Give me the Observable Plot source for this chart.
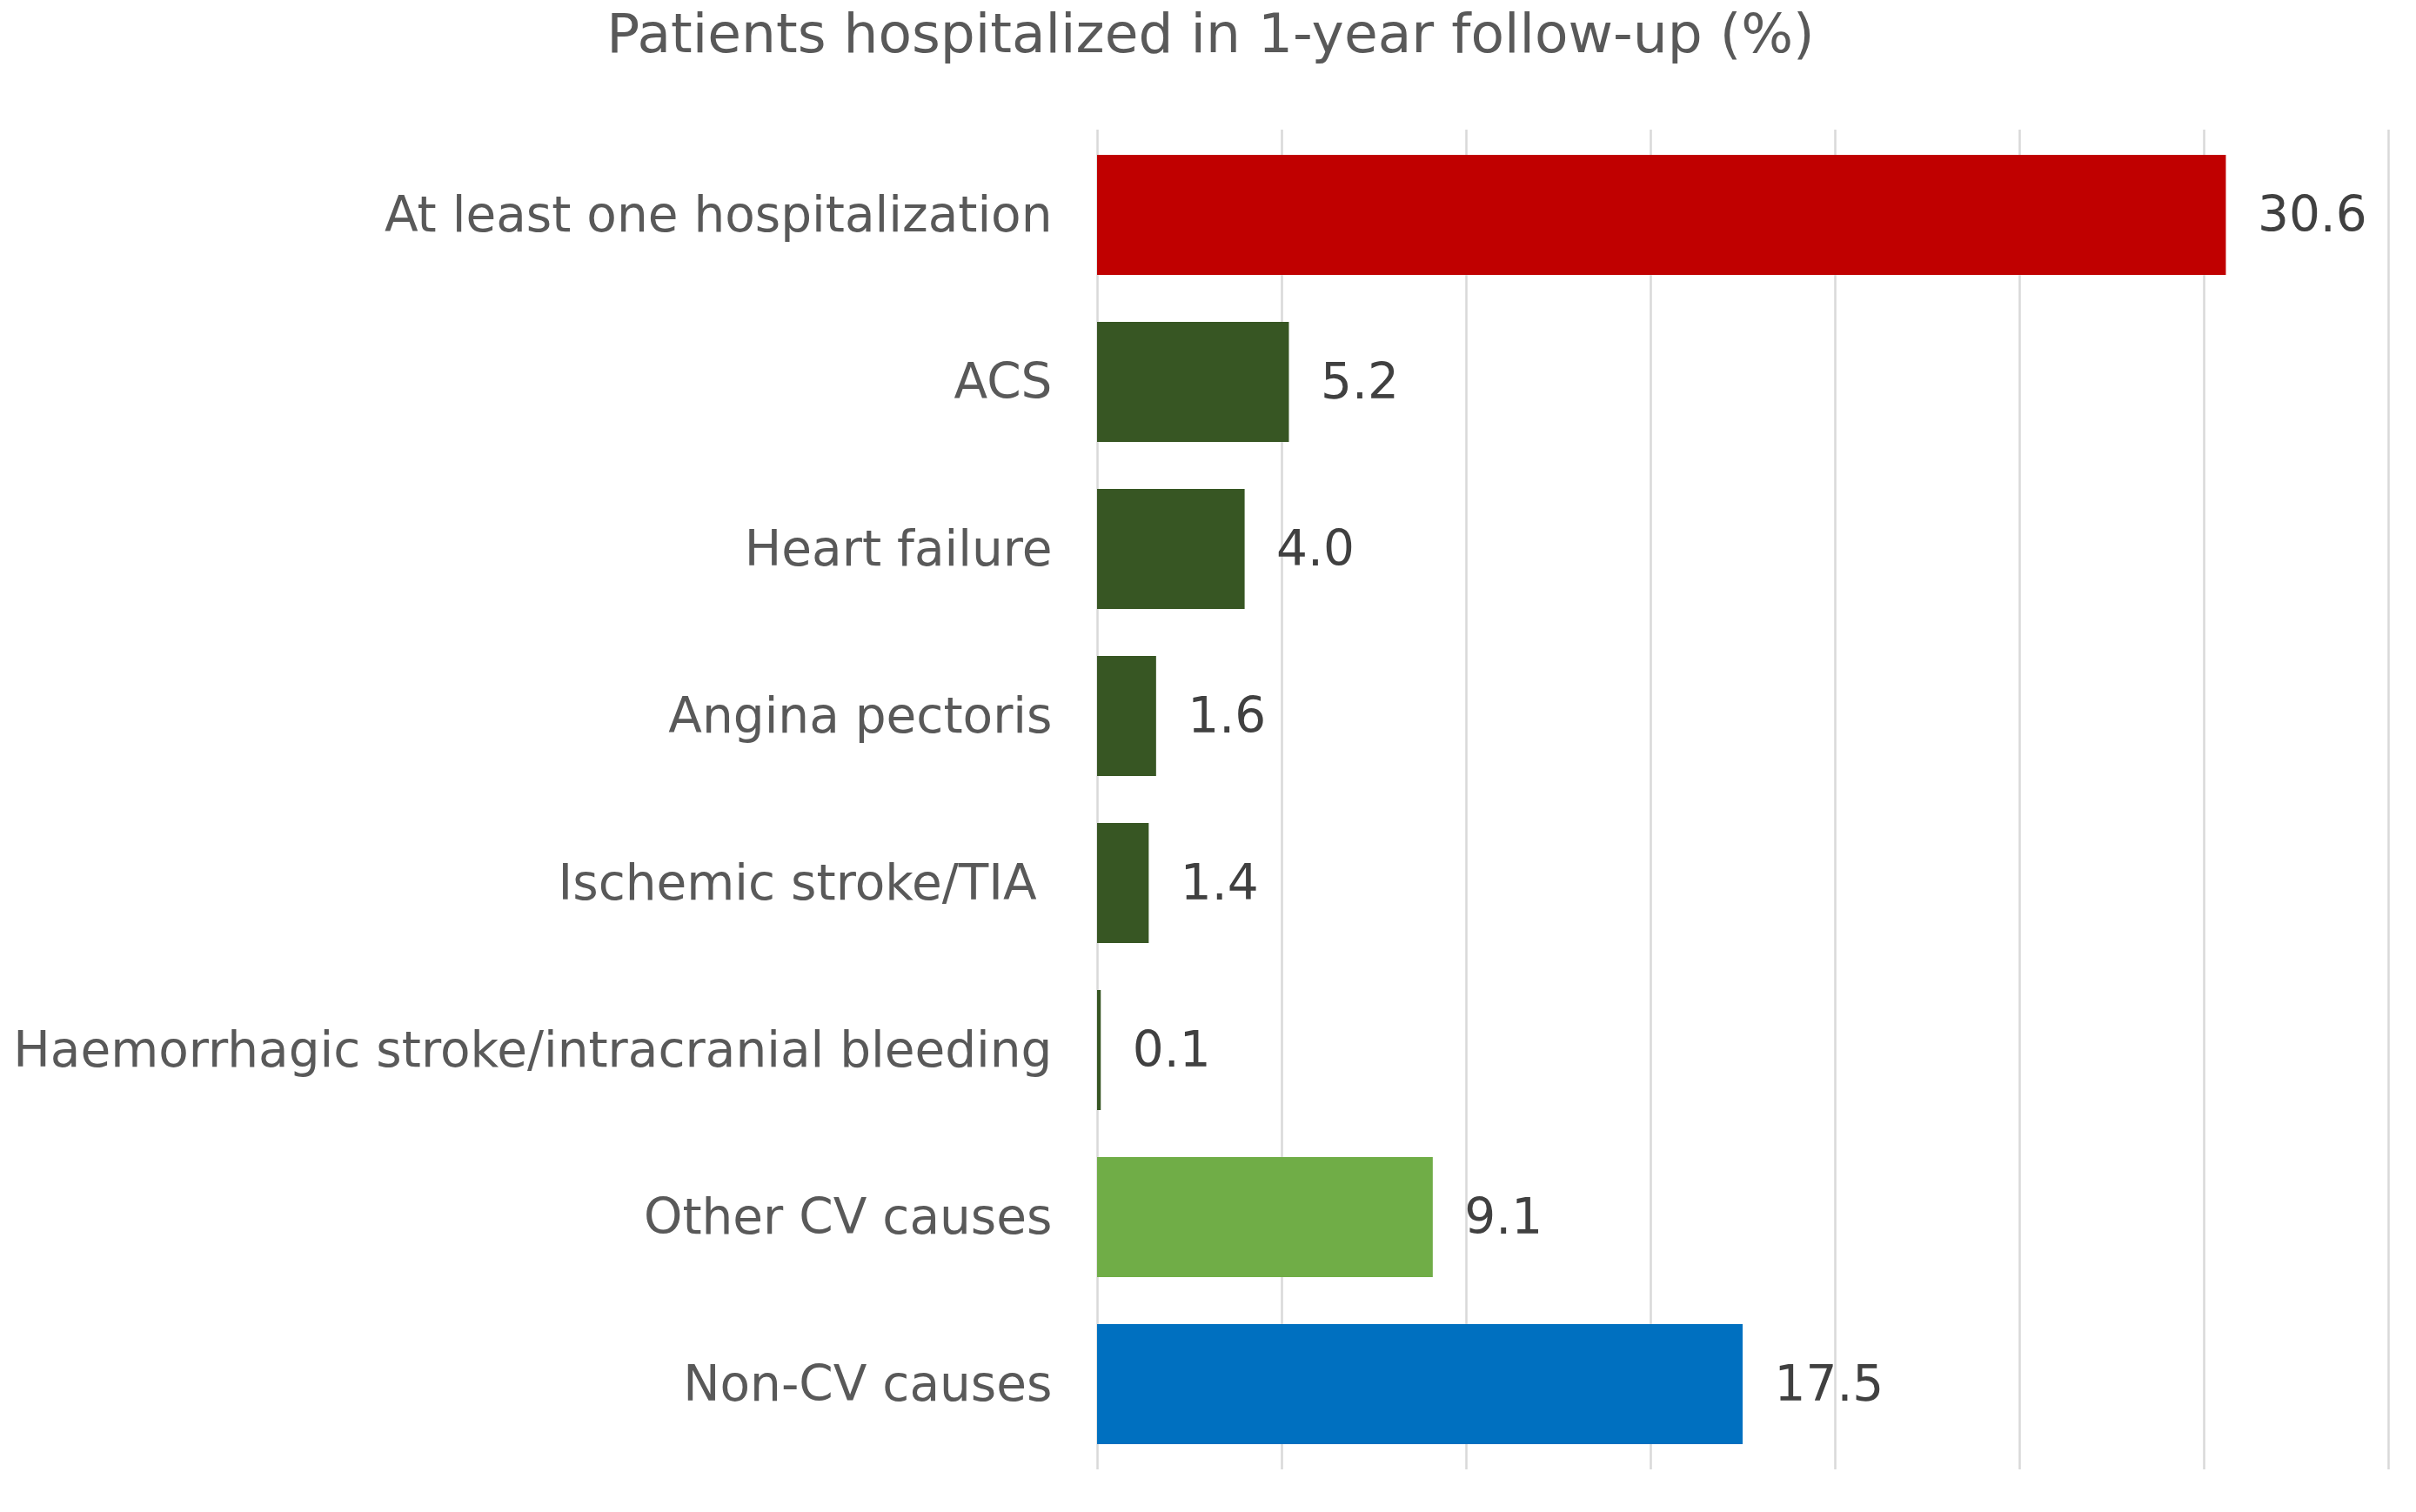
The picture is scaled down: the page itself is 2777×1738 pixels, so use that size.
<!DOCTYPE html>
<html>
<head>
<meta charset="utf-8">
<script src="https://cdn.jsdelivr.net/npm/d3@7"></script>
<script src="https://cdn.jsdelivr.net/npm/@observablehq/plot@0.6"></script>
<style>
  html, body { margin: 0; padding: 0; background: #fff; }
  #title {
    height: 100px; line-height: 78px; box-sizing: border-box;
    font-family: "DejaVu Sans", Verdana, sans-serif; font-size: 63px; color: #595959;
    text-align: center; padding-left: 6px; white-space: nowrap;
  }
</style>
</head>
<body>
<div id="title">Patients hospitalized in 1-year follow-up (%)</div>
<div id="chart"></div>
<script>
const categories = [
  "At least one hospitalization",
  "ACS",
  "Heart failure",
  "Angina pectoris",
  "Ischemic stroke/TIA\u00a0",
  "Haemorrhagic stroke/intracranial bleeding",
  "Other CV causes",
  "Non-CV causes"
];
const values = [30.6, 5.2, 4.0, 1.6, 1.4, 0.1, 9.1, 17.5];
const groups = ["total", "cv", "cv", "cv", "cv", "cv", "othercv", "noncv"];
const groupDomain = ["total", "cv", "othercv", "noncv"];
const groupColors = ["#C00000", "#375623", "#70AD47", "#0070C0"];
const xTicks = [0, 5, 10, 15, 20, 25, 30, 35];

const data = categories.map((c, i) => ({category: c, value: values[i], group: groups[i]}));
const fmt = d3.format(".1f");

const chart = Plot.plot({
  width: 2777,
  height: 1638,
  marginLeft: 1261,
  marginRight: 32,
  marginTop: 49,
  marginBottom: 49,
  style: {fontFamily: "\"DejaVu Sans\", Verdana, sans-serif", fontSize: "56px", color: "#595959", background: "#fff"},
  x: {domain: [0, 35], axis: null},
  y: {domain: categories, paddingInner: 0.283, paddingOuter: 0.1415, label: null},
  color: {domain: groupDomain, range: groupColors},
  marks: [
    Plot.gridX(xTicks, {stroke: "#D9D9D9", strokeOpacity: 1, strokeWidth: 2.5}),
    Plot.barX(data, {x: "value", y: "category", fill: "group"}),
    Plot.text(data, {x: "value", y: "category", text: d => fmt(d.value), dx: 36, textAnchor: "start", fill: "#404040", fontSize: 56.5}),
    Plot.axisY({tickSize: 0, tickPadding: 52, fontSize: 56.5, fill: "#595959", label: null})
  ]
});
document.getElementById("chart").appendChild(chart);
</script>
</body>
</html>
